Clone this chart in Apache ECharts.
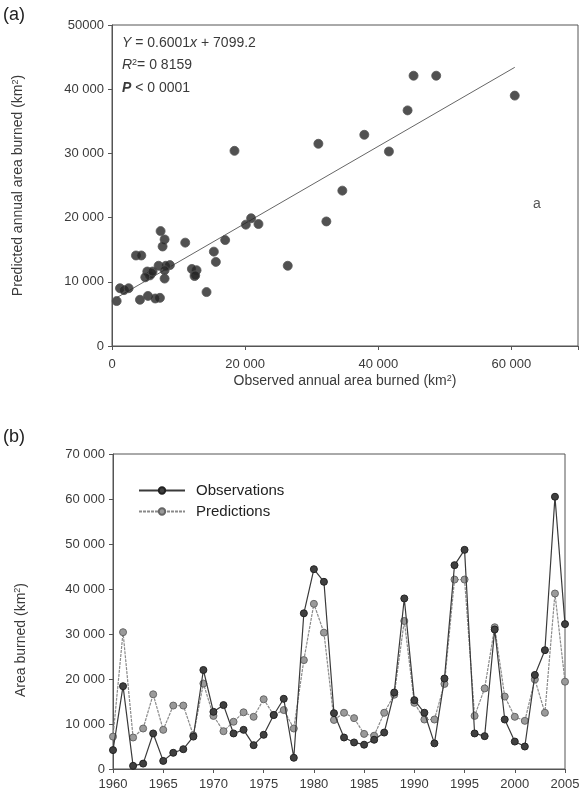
<!DOCTYPE html>
<html>
<head>
<meta charset="utf-8">
<script src="https://cdn.jsdelivr.net/npm/echarts@6/dist/echarts.min.js"></script>
<style>
  html, body { margin: 0; padding: 0; background: #fff; }
  #chart { width: 587px; height: 797px; }
</style>
</head>
<body>
<div id="chart"></div>
<script>
  // annual area burned, km2, 1960-2005
  const years = [1960, 1961, 1962, 1963, 1964, 1965, 1966, 1967, 1968, 1969,
    1970, 1971, 1972, 1973, 1974, 1975, 1976, 1977, 1978, 1979,
    1980, 1981, 1982, 1983, 1984, 1985, 1986, 1987, 1988, 1989,
    1990, 1991, 1992, 1993, 1994, 1995, 1996, 1997, 1998, 1999,
    2000, 2001, 2002, 2003, 2004, 2005];
  const observed = [4200, 18400, 700, 1200, 7900, 1800, 3600, 4400, 7200, 22000,
    12700, 14200, 7900, 8700, 5300, 7600, 12000, 15600, 2500, 34600,
    44400, 41600, 12400, 7000, 5900, 5400, 6500, 8100, 17000, 37900,
    15300, 12500, 5700, 20100, 45300, 48700, 7900, 7300, 31000, 11000,
    6100, 5000, 20900, 26400, 60500, 32200];
  const predicted = [7200, 30400, 7000, 9000, 16600, 8700, 14100, 14100, 7500, 19000,
    11800, 8400, 10500, 12600, 11600, 15500, 12000, 13100, 9000, 24200,
    36700, 30300, 10900, 12500, 11300, 7800, 7400, 12500, 16500, 32900,
    14700, 11000, 11000, 18900, 42100, 42100, 11800, 17900, 31500, 16100,
    11600, 10700, 19900, 12500, 39000, 19400];

  // fitted line printed on panel (a)
  const fitSlope = 0.6001;
  const fitIntercept = 7099.2;
  const fitRange = [800, 60500];

  const font = 'Liberation Sans, Arial, sans-serif';
  const ink = '#3a3a3a';

  function thousands(v) {
    if (v === 0) return '0';
    return Math.round(v / 1000) + ' 000';
  }

  const scatterData = observed.map((o, i) => [o, predicted[i]]);
  const fitLine = fitRange.map(x => [x, fitSlope * x + fitIntercept]);
  const obsLine = years.map((y, i) => [y, observed[i]]);
  const predLine = years.map((y, i) => [y, predicted[i]]);

  const supStyle = { fontSize: 9, verticalAlign: 'top', padding: [0, 0, 6, 0], color: ink, fill: ink, fontFamily: font };

  const chart = echarts.init(document.getElementById('chart'));

  const axisCommon = {
    axisLine: { show: true, lineStyle: { color: '#555', width: 1 } },
    axisTick: { show: true, length: 4, lineStyle: { color: '#555' } },
    splitLine: { show: false },
    axisLabel: { color: ink, fontFamily: font, fontSize: 13 },
    nameTextStyle: { color: ink, fontFamily: font, fontSize: 14, rich: { sup: supStyle } }
  };

  const option = {
    animation: false,
    backgroundColor: '#fff',
    grid: [
      { left: 112, right: 9, top: 25, bottom: 451, show: true, borderColor: '#555', borderWidth: 1 },
      { left: 113, right: 22, top: 454, bottom: 28, show: true, borderColor: '#555', borderWidth: 1 }
    ],
    xAxis: [
      Object.assign({}, axisCommon, {
        gridIndex: 0, type: 'value', min: 0, max: 70000, interval: 20000,
        axisLabel: Object.assign({}, axisCommon.axisLabel, {
          margin: 12,
          formatter: v => v > 60000 ? '' : thousands(v)
        }),
        name: 'Observed annual area burned (km{sup|2})',
        nameLocation: 'middle', nameGap: 28
      }),
      Object.assign({}, axisCommon, {
        gridIndex: 1, type: 'value', min: 1960, max: 2005, interval: 5,
        axisLabel: Object.assign({}, axisCommon.axisLabel, {
          margin: 9, formatter: v => String(v)
        })
      })
    ],
    yAxis: [
      Object.assign({}, axisCommon, {
        gridIndex: 0, type: 'value', min: 0, max: 50000, interval: 10000,
        axisLabel: Object.assign({}, axisCommon.axisLabel, {
          margin: 8,
          formatter: v => v === 50000 ? '50000' : thousands(v)
        }),
        name: 'Predicted annual area burned (km{sup|2})',
        nameLocation: 'middle', nameGap: 86
      }),
      Object.assign({}, axisCommon, {
        gridIndex: 1, type: 'value', min: 0, max: 70000, interval: 10000,
        axisLabel: Object.assign({}, axisCommon.axisLabel, {
          margin: 8, formatter: thousands
        })
      })
    ],
    legend: {
      left: 133, top: 478, orient: 'vertical', itemGap: 6,
      itemWidth: 46, itemHeight: 8,
      textStyle: { color: '#222', fontFamily: font, fontSize: 15, padding: [0, 0, 0, 6] },
      data: ['Observations', 'Predictions']
    },
    graphic: [
      { type: 'text', left: 3, top: 6, style: { text: '(a)', font: '18px ' + font, fill: '#222' } },
      { type: 'text', left: 3, top: 428, style: { text: '(b)', font: '18px ' + font, fill: '#222' } },
      { type: 'text', x: 21, y: 640, rotation: Math.PI / 2, style: {
        text: 'Area burned (km{sup|2})', font: '14px ' + font, fill: ink,
        align: 'center', verticalAlign: 'middle', rich: { sup: supStyle } } },
      { type: 'text', left: 122, top: 36, style: {
        text: '{i|Y} = 0.6001{i|x} + 7099.2',
        font: '14px ' + font, fill: ink,
        rich: { i: { fontStyle: 'italic', fontSize: 14, fontFamily: font, fill: ink } } } },
      { type: 'text', left: 122, top: 58, style: {
        text: '{i|R}{s|2}= 0 8159',
        font: '14px ' + font, fill: ink,
        rich: { i: { fontStyle: 'italic', fontSize: 14, fontFamily: font, fill: ink }, s: supStyle } } },
      { type: 'text', left: 122, top: 81, style: {
        text: '{b|P} < 0 0001',
        font: '14px ' + font, fill: ink,
        rich: { b: { fontStyle: 'italic', fontWeight: 'bold', fontSize: 14, fontFamily: font, fill: ink } } } },
      { type: 'text', left: 533, top: 197, style: { text: 'a', font: '14px ' + font, fill: '#555' } }
    ],
    series: [
      {
        type: 'scatter', xAxisIndex: 0, yAxisIndex: 0,
        symbolSize: 9,
        itemStyle: { color: '#262626', borderColor: '#555', borderWidth: 1 },
        data: scatterData, z: 3
      },
      {
        type: 'line', xAxisIndex: 0, yAxisIndex: 0,
        symbol: 'none', silent: true,
        lineStyle: { color: '#666', width: 1 },
        data: fitLine, z: 2
      },
      {
        name: 'Predictions', type: 'line', xAxisIndex: 1, yAxisIndex: 1,
        symbol: 'circle', symbolSize: 7,
        lineStyle: { color: '#8a8a8a', width: 1.2, type: [3, 1] },
        itemStyle: { color: '#9a9a9a', borderColor: '#666', borderWidth: 1 },
        data: predLine, z: 2
      },
      {
        name: 'Observations', type: 'line', xAxisIndex: 1, yAxisIndex: 1,
        symbol: 'circle', symbolSize: 7,
        lineStyle: { color: '#3a3a3a', width: 1.2 },
        itemStyle: { color: '#404040', borderColor: '#222', borderWidth: 1 },
        data: obsLine, z: 3
      }
    ]
  };

  chart.setOption(option);
</script>
</body>
</html>
